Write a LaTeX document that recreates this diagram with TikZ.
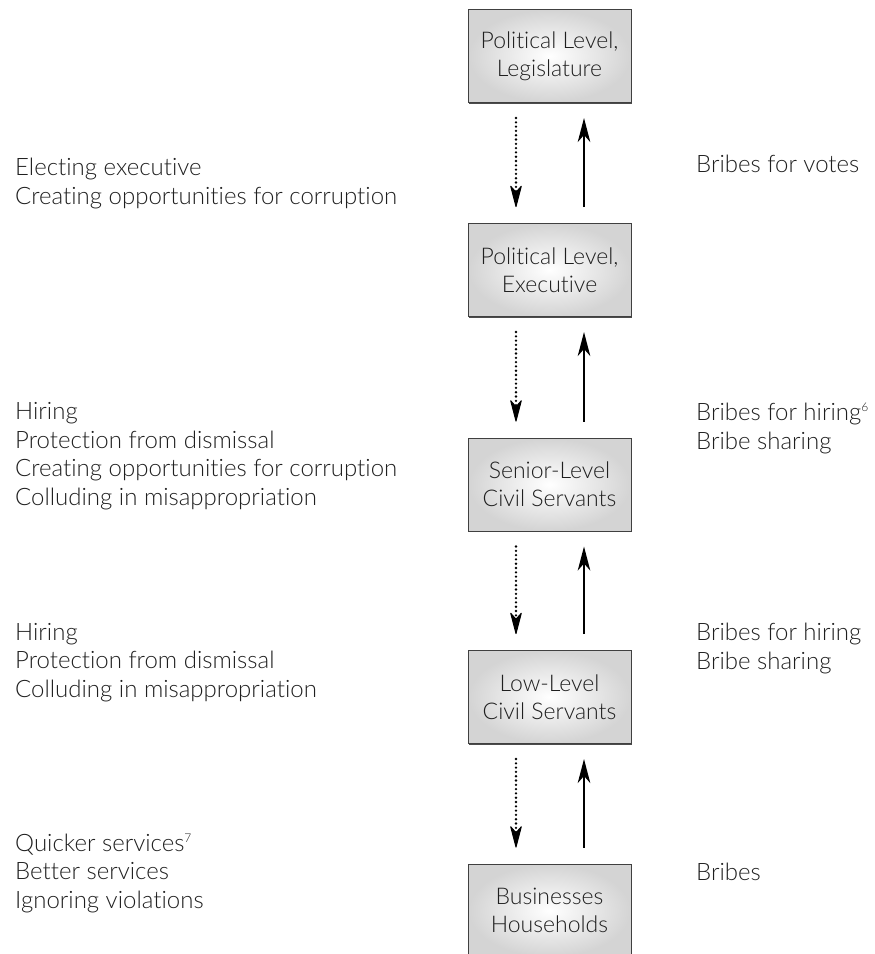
\documentclass[tikz,border=0pt]{standalone}
\usepackage{fontspec}
\setmainfont{Lato}[UprightFont={* Light}, Ligatures={NoCommon,NoRequired,NoContextual}]
\usetikzlibrary{arrows.meta,shadows,calc}
\newcommand\supnum[1]{\raisebox{0.75ex}{\fontsize{12}{12}\selectfont #1}}
\begin{document}
\begin{tikzpicture}[x=1pt,y=-1pt,
  lvl/.style={draw=black!75, line width=1pt, inner color=white, outer color=black!17,
    minimum width=163pt, minimum height=93pt, align=center, inner sep=0pt,
    font=\fontsize{23}{28}\selectfont, text=black!88,
    drop shadow={shadow xshift=1.2pt, shadow yshift=-1.2pt, fill=black!70, opacity=1}},
  side/.style={anchor=base west, align=left, inner sep=0pt, text=black!88,
    font=\fontsize{24}{28.5}\selectfont},
  down/.style={line width=2.6pt, dash pattern=on 0pt off 4.3pt, line cap=round,
    -{Stealth[length=24pt,width=12.5pt,inset=7pt,line cap=butt,round=false,line width=1pt]}},
  up/.style={line width=2pt,
    -{Stealth[length=24pt,width=12.5pt,inset=7pt]}}
]
\clip (0,0) rectangle (875,954);
\useasboundingbox (0,0) rectangle (875,954);

\node[lvl] (b1) at (549.5,56) {Political Level,\\Legislature};
\node[lvl] (b2) at (549.5,270) {Political Level,\\Executive};
\node[lvl] (b3) at (549.5,484.5) {Senior-Level\\Civil Servants};
\node[lvl] (b4) at (549.5,697) {Low-Level\\Civil Servants};
\node[lvl] (b5) at (549.5,910.5) {Businesses\\Households};

\foreach \a/\b in {b1/b2,b2/b3,b3/b4,b4/b5}{
  \draw[down] ($(\a.south)+(-33.5,15)$) -- ($(\b.north)+(-33.5,-16)$);
  \draw[up] ($(\b.north)+(34.5,-16)$) -- ($(\a.south)+(34.5,15)$);
}

\node[side] (l1) at (15,204) {Electing executive\\Creating opportunities for corruption};
\node[side] (l2) at (15,505) {Hiring\\Protection from dismissal\\Creating opportunities for corruption\\Colluding in misappropriation};
\node[side] (l3) at (15,697) {Hiring\\Protection from dismissal\\Colluding in misappropriation};
\node[side] (l4) at (15,908) {Quicker services\supnum{7}\\Better services\\Ignoring violations};

\node[side] (r1) at (696,172) {Bribes for votes};
\node[side] (r2) at (696,449) {Bribes for hiring\supnum{6}\\Bribe sharing};
\node[side] (r3) at (696,669) {Bribes for hiring\\Bribe sharing};
\node[side] (r4) at (696,880) {Bribes};
\end{tikzpicture}
\end{document}
